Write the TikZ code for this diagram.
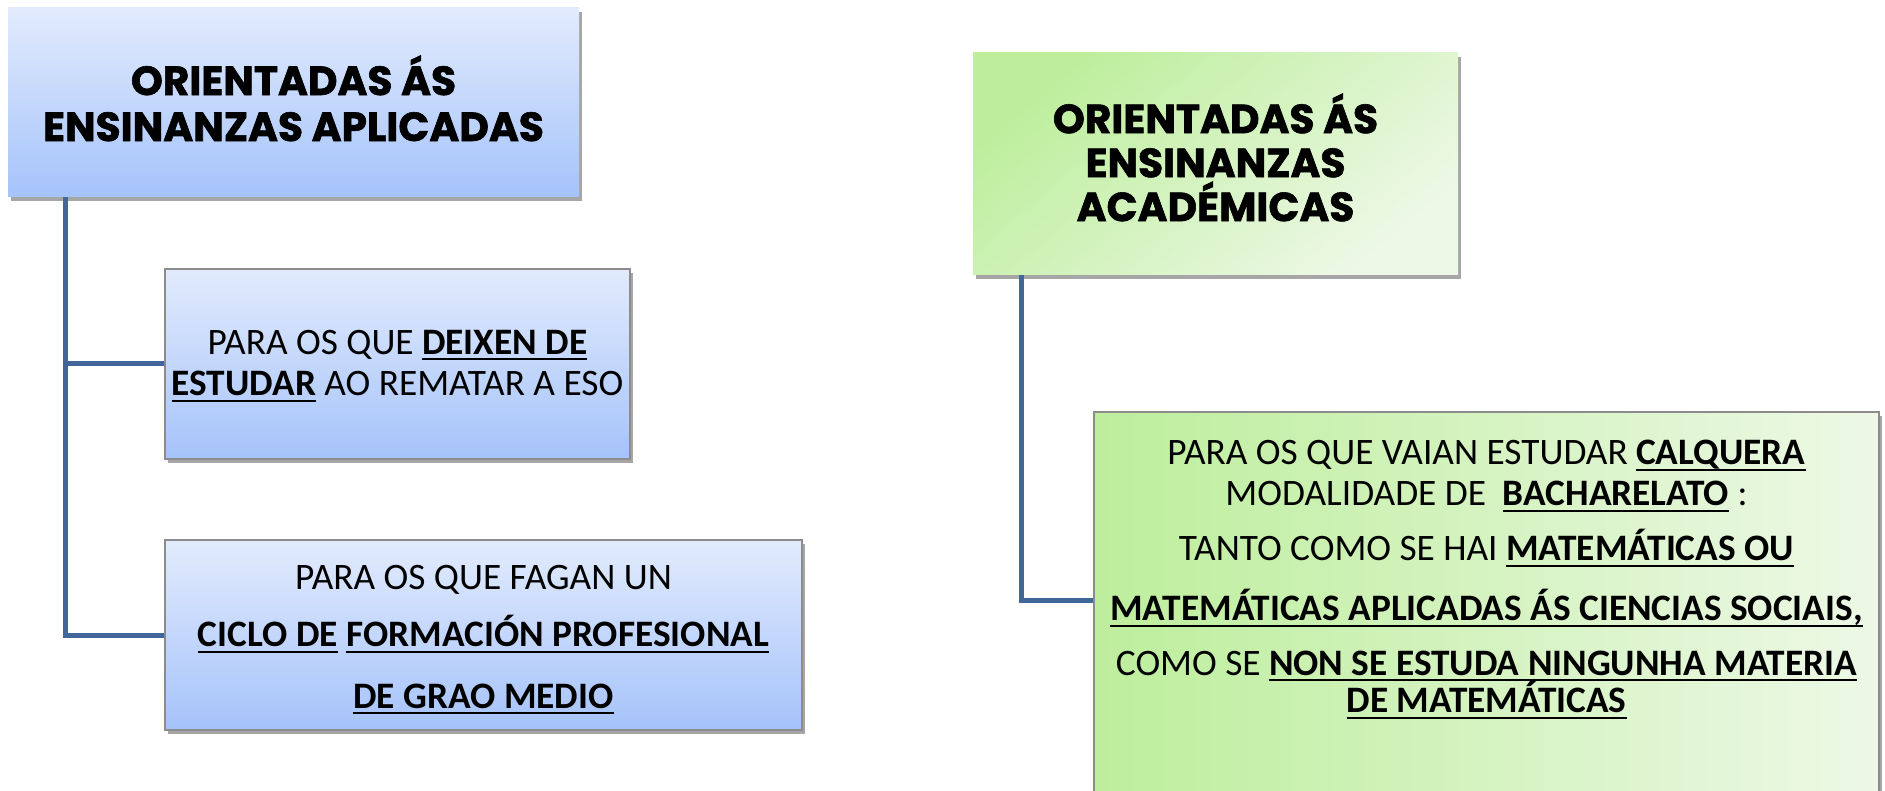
\documentclass[tikz,border=0pt]{standalone}
\usepackage{fontspec}
\setmainfont{Carlito}
\newfontfamily\titlefont{Poppins}[BoldFeatures={FakeBold=1.5}]
\usetikzlibrary{shadows}
\newsavebox{\ubox}
\newcommand{\bu}[1]{\textbf{\sbox{\ubox}{#1}\rlap{\rule[-4.5pt]{\wd\ubox}{1.5pt}}\usebox{\ubox}}}
\definecolor{blueTop}{HTML}{E2EBFD}
\definecolor{blueBot}{HTML}{A5C3FA}
\definecolor{greenA}{HTML}{BDEE9C}
\definecolor{greenB}{HTML}{EDF8E6}
\definecolor{connc}{HTML}{41679A}
\definecolor{bordc}{HTML}{8C8C8C}
\tikzset{
  shad/.style={drop shadow={shadow xshift=2pt, shadow yshift=-3pt, opacity=0.35, fill=black}},
  bluebox/.style={rectangle, top color=blueTop, bottom color=blueBot, shad, align=center, inner sep=0pt},
  blueframe/.style={bluebox, draw=bordc, line width=0.8pt},
  greenbox/.style={rectangle, top color=greenA, bottom color=greenB, shading angle=40, shad, align=center, inner sep=0pt},
  greenframe/.style={rectangle, left color=greenA, right color=greenB, shad, draw=bordc, line width=0.8pt, inner sep=0pt},
  titletext/.style={font=\titlefont\bfseries\fontsize{30.5}{34.5}\selectfont},
  bodytext/.style={font=\fontsize{28}{31}\selectfont},
  conn/.style={draw=connc, line width=3.75pt},
}
\begin{document}
\begin{tikzpicture}[x=0.75pt, y=-0.75pt]
\useasboundingbox (0,0) rectangle (1885,791);
\fill[white] (0,0) rectangle (1885,791);
% left group
\node[bluebox, titletext, minimum width=571*0.75pt, minimum height=189*0.75pt] (b1) at (293.5,102.5)
  {ORIENTADAS ÁS\\ENSINANZAS APLICADAS\rule[-6.5pt]{0pt}{6.5pt}};
\node[blueframe, bodytext, minimum width=465*0.75pt, minimum height=190*0.75pt] (b2) at (397.5,364)
  {\rule{0pt}{21pt}PARA OS QUE \bu{DEIXEN DE}\\\bu{ESTUDAR} AO REMATAR A ESO};
\node[blueframe, bodytext, minimum width=637*0.75pt, minimum height=190*0.75pt] (b3) at (483.5,635)
  {\rule{0pt}{25pt}PARA OS QUE FAGAN UN\\[12pt]\bu{CICLO DE} \bu{FORMACIÓN PROFESIONAL}\\[15pt]\bu{DE GRAO MEDIO}};
\draw[conn] ([xshift=58*0.75pt]b1.south west) |- (b2.west);
\draw[conn] ([xshift=58*0.75pt]b1.south west) |- (b3.west);
% right group
\node[greenbox, titletext, font=\titlefont\bfseries\fontsize{30.5}{33}\selectfont, minimum width=485*0.75pt, minimum height=222*0.75pt] (b4) at (1215.5,164)
  {ORIENTADAS ÁS\\ENSINANZAS\\ACADÉMICAS\rule[-10pt]{0pt}{10pt}};
\node[greenframe, minimum width=785*0.75pt, minimum height=390*0.75pt] (b5) at (1486.5,607) {};
\node[bodytext, align=center, anchor=north] (t5) at ([yshift=-18pt]b5.north)
  {PARA OS QUE VAIAN ESTUDAR \bu{CALQUERA}\\
   MODALIDADE DE\ \ \bu{BACHARELATO} :\\[10pt]
   TANTO COMO SE HAI \bu{MATEMÁTICAS OU}\\[14pt]
   \bu{MATEMÁTICAS APLICADAS ÁS CIENCIAS SOCIAIS,}\\[10pt]
   COMO SE \bu{NON SE ESTUDA NINGUNHA MATERIA}\\[-3pt]
   \bu{DE MATEMÁTICAS}};
\draw[conn] ([xshift=49*0.75pt]b4.south west) |- ([yshift=-189*0.75pt]b5.north west);
\end{tikzpicture}
\end{document}
